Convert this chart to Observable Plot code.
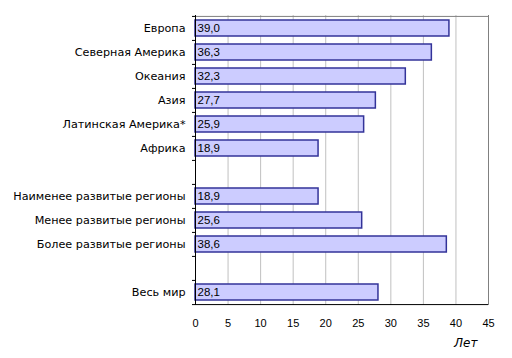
<!DOCTYPE html>
<html>
<head>
<meta charset="utf-8">
<script src="https://cdn.jsdelivr.net/npm/d3@7"></script>
<script src="https://cdn.jsdelivr.net/npm/@observablehq/plot@0.6"></script>
<style>
html, body { margin: 0; padding: 0; background: #fff; }
#chart svg { display: block; }
</style>
</head>
<body>
<div id="chart"></div>
<script>
// Slots on the y axis (gap entries are blank rows)
const categories = ["Европа", "Северная Америка", "Океания", "Азия", "Латинская Америка*", "Африка",
  "gap1", "Наименее развитые регионы", "Менее развитые регионы", "Более развитые регионы", "gap2", "Весь мир"];
const barCategories = ["Европа", "Северная Америка", "Океания", "Азия", "Латинская Америка*", "Африка",
  "Наименее развитые регионы", "Менее развитые регионы", "Более развитые регионы", "Весь мир"];
const values = [39.0, 36.3, 32.3, 27.7, 25.9, 18.9, 18.9, 25.6, 38.6, 28.1];
const xTicks = [0, 5, 10, 15, 20, 25, 30, 35, 40, 45];
const unitLabel = "Лет";

const data = barCategories.map((c, i) => ({cat: c, value: values[i]}));
const fmt = v => v.toFixed(1).replace(".", ",");

const W = 512, H = 358, mt = 15, mb = 53;
const step = (H - mt - mb) / categories.length;

const chart = Plot.plot({
  width: W,
  height: H,
  marginLeft: 195,
  marginRight: 24,
  marginTop: mt,
  marginBottom: mb,
  style: {fontFamily: "'Liberation Sans', Arial, sans-serif", fontSize: "11px", color: "#000", background: "#fff"},
  x: {domain: [0, 45], ticks: xTicks, tickSize: 0, tickPadding: 14, tickFormat: d => String(d), label: null},
  y: {domain: categories, paddingInner: 0.34, paddingOuter: 0.17, tickSize: 0, tickPadding: 10,
      tickFormat: d => d.startsWith("gap") ? "" : d, label: null, axis: null},
  marks: [
    Plot.ruleX(xTicks.filter(t => t > 0 && t < 45), {stroke: "#c0c0c0", strokeWidth: 1}),
    Plot.ruleX([45], {stroke: "#808080", strokeWidth: 1}),
    Plot.ruleY([categories[0]], {x1: 0, x2: 45, dy: -step / 2, stroke: "#808080", strokeWidth: 1}),
    Plot.barX(data, {x: "value", y: "cat", fill: "#ccccff", stroke: "#333399", strokeWidth: 1.5}),
    Plot.text(data, {x: 0, y: "cat", text: d => fmt(d.value), textAnchor: "start", dx: 2, fill: "#000", fontSize: 11.5}),
    Plot.text(data, {x: 0, y: "cat", text: "cat", textAnchor: "end", dx: -10, fill: "#000",
      fontSize: 11.2, fontFamily: "'DejaVu Sans', sans-serif"}),
    Plot.ruleX([0], {stroke: "#000", strokeWidth: 1}),
    Plot.ruleY([categories[categories.length - 1]], {x1: 0, x2: 45, dy: step / 2, stroke: "#000", strokeWidth: 1}),
    Plot.ruleY(categories, {x1: 0, x2: 0, insetLeft: -3, dy: -step / 2, stroke: "#000", strokeWidth: 1}),
    Plot.ruleY([categories[categories.length - 1]], {x1: 0, x2: 0, insetLeft: -3, dy: step / 2, stroke: "#000", strokeWidth: 1}),
    Plot.text([unitLabel], {frameAnchor: "bottom-right", textAnchor: "end", lineAnchor: "middle", dx: -11, dy: 38,
      fontStyle: "italic", fontSize: 12, fontFamily: "'DejaVu Sans', sans-serif", fill: "#000"})
  ]
});
document.getElementById("chart").appendChild(chart);
</script>
</body>
</html>
